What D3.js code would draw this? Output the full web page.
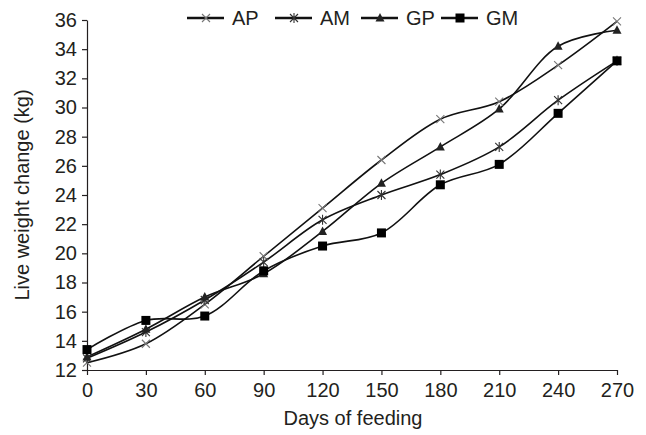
<!DOCTYPE html>
<html>
<head>
<meta charset="utf-8">
<script src="https://cdn.jsdelivr.net/npm/d3@7.9.0/dist/d3.min.js"></script>
<style>
  body { margin: 0; background: #fff; }
  svg text { font-family: Arial, "Liberation Sans", sans-serif; fill: #231f20; }
</style>
</head>
<body>
<svg id="chart" width="646" height="435"></svg>
<script>
// data
const days = [0, 30, 60, 90, 120, 150, 180, 210, 240, 270];
const AP = [12.5, 13.8, 16.5, 19.8, 23.1, 26.4, 29.2, 30.4, 32.9, 35.9];
const AM = [12.8, 14.6, 16.8, 19.4, 22.3, 24.0, 25.4, 27.3, 30.5, 33.2];
const GP = [12.9, 14.8, 17.0, 18.6, 21.5, 24.8, 27.3, 29.9, 34.2, 35.3];
const GM = [13.4, 15.4, 15.7, 18.8, 20.5, 21.4, 24.7, 26.1, 29.6, 33.2];
const seriesNames = ['AP', 'AM', 'GP', 'GM'];
const yTicks = [12, 14, 16, 18, 20, 22, 24, 26, 28, 30, 32, 34, 36];

const series = [
  { name: 'AP', values: AP, marker: 'cross' },
  { name: 'AM', values: AM, marker: 'star' },
  { name: 'GP', values: GP, marker: 'triangle' },
  { name: 'GM', values: GM, marker: 'square' },
];

const svg = d3.select('#chart');

const x = d3.scaleLinear().domain([0, 270]).range([87, 617]);
const y = d3.scaleLinear().domain([12, 36]).range([370, 20]);

// axes
const xAxis = svg.append('g')
  .attr('transform', `translate(0,${y(12)})`)
  .call(d3.axisBottom(x).tickValues(days).tickSize(5).tickPadding(8).tickSizeOuter(0));
const yAxis = svg.append('g')
  .attr('transform', `translate(${x(0)},0)`)
  .call(d3.axisLeft(y).tickValues(yTicks).tickSize(5).tickPadding(5).tickSizeOuter(0));

[xAxis, yAxis].forEach(ax => {
  ax.select('.domain').attr('stroke', '#231f20').attr('stroke-width', 1.2);
  ax.selectAll('.tick line').attr('stroke', '#231f20').attr('stroke-width', 1.2);
  ax.selectAll('.tick text').attr('font-size', 20).attr('font-family', 'Arial, "Liberation Sans", sans-serif').attr('fill', '#231f20');
});

// axis titles
svg.append('text')
  .attr('x', 353).attr('y', 425)
  .attr('text-anchor', 'middle')
  .attr('font-size', 20)
  .text('Days of feeding');

svg.append('text')
  .attr('transform', 'translate(29,195) rotate(-90)')
  .attr('text-anchor', 'middle')
  .attr('font-size', 20)
  .text('Live weight change (kg)');

// lines
const line = d3.line()
  .x((d, i) => x(days[i]))
  .y(d => y(d))
  .curve(d3.curveCatmullRom.alpha(0.5));

svg.append('g').selectAll('path')
  .data(series)
  .join('path')
  .attr('d', d => line(d.values))
  .attr('fill', 'none')
  .attr('stroke', '#111')
  .attr('stroke-width', 1.6);

// marker drawing
function drawMarker(g, type, cx, cy) {
  if (type === 'cross') {
    g.append('path')
      .attr('d', `M${cx - 4},${cy - 4}L${cx + 4},${cy + 4}M${cx - 4},${cy + 4}L${cx + 4},${cy - 4}`)
      .attr('stroke', '#777').attr('stroke-width', 1.1).attr('fill', 'none');
  } else if (type === 'star') {
    g.append('path')
      .attr('d', `M${cx - 4},${cy - 4}L${cx + 4},${cy + 4}M${cx - 4},${cy + 4}L${cx + 4},${cy - 4}M${cx},${cy - 5}L${cx},${cy + 5}`)
      .attr('stroke', '#333').attr('stroke-width', 1.1).attr('fill', 'none');
  } else if (type === 'triangle') {
    g.append('path')
      .attr('d', `M${cx},${cy - 5}L${cx + 4.5},${cy + 3.5}L${cx - 4.5},${cy + 3.5}Z`)
      .attr('fill', '#222');
  } else {
    g.append('rect')
      .attr('x', cx - 4.5).attr('y', cy - 4.5)
      .attr('width', 9).attr('height', 9)
      .attr('fill', '#000');
  }
}

const markers = svg.append('g');
series.forEach(s => {
  s.values.forEach((v, i) => drawMarker(markers, s.marker, x(days[i]), y(v)));
});

// legend
const legendX = [187, 275, 361, 441];
const legend = svg.append('g');
series.forEach((s, i) => {
  const lx = legendX[i];
  legend.append('line')
    .attr('x1', lx).attr('x2', lx + 37)
    .attr('y1', 18).attr('y2', 18)
    .attr('stroke', '#111').attr('stroke-width', 2.5);
  drawMarker(legend, s.marker, lx + 19, 18);
  legend.append('text')
    .attr('x', lx + 45).attr('y', 25)
    .attr('font-size', 20)
    .text(seriesNames[i]);
});
</script>
</body>
</html>
